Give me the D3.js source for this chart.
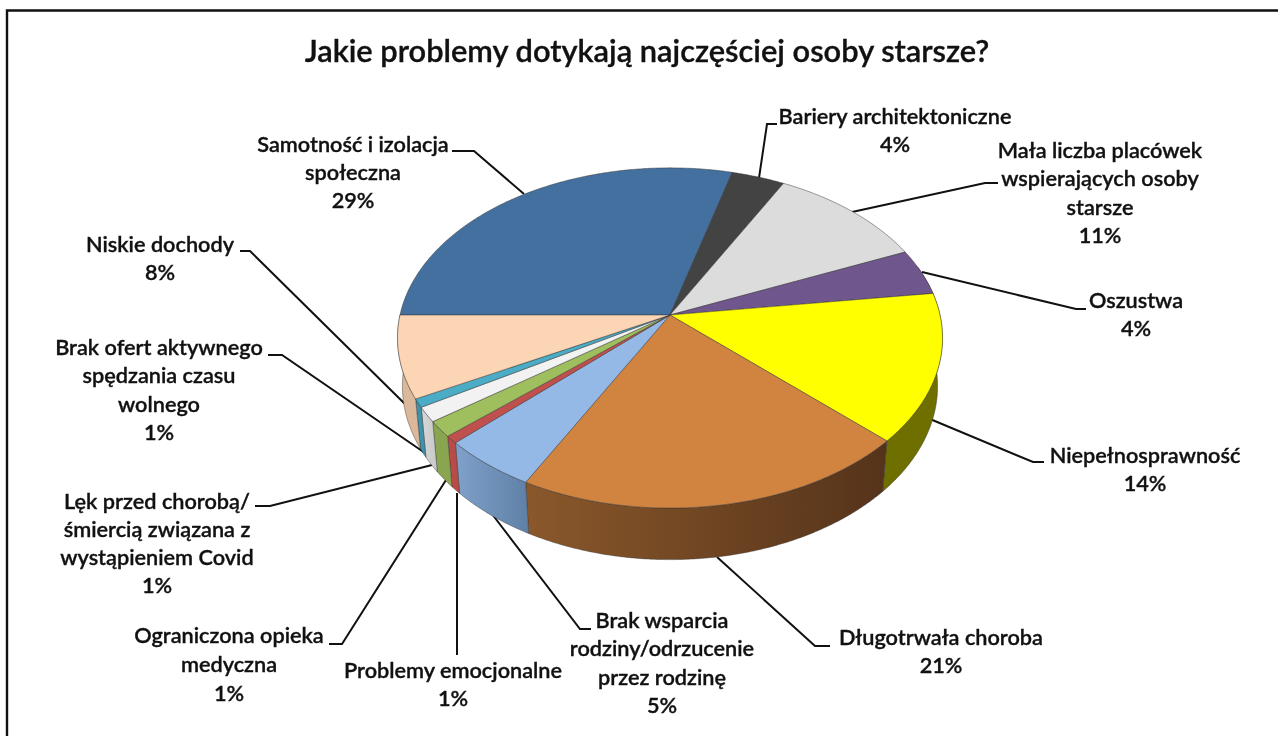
<!DOCTYPE html>
<html><head><meta charset="utf-8">
<script src="https://cdn.jsdelivr.net/npm/d3@7"></script>
<style>html,body{margin:0;padding:0;background:#fff;overflow:hidden}svg{display:block;filter:blur(0.45px)}</style>
</head><body><div id="chart"></div>
<script>
const title = "Jakie problemy dotykają najczęściej osoby starsze?";
const categories = [
  ["Samotność i izolacja","społeczna"],
  ["Bariery architektoniczne"],
  ["Mała liczba placówek","wspierających osoby","starsze"],
  ["Oszustwa"],
  ["Niepełnosprawność"],
  ["Długotrwała choroba"],
  ["Brak wsparcia","rodziny/odrzucenie","przez rodzinę"],
  ["Problemy emocjonalne"],
  ["Ograniczona opieka","medyczna"],
  ["Lęk przed chorobą/","śmiercią związana z","wystąpieniem Covid"],
  ["Brak ofert aktywnego","spędzania czasu","wolnego"],
  ["Niskie dochody"]
];
const values = [29.2,3.6,10.7,4.4,14.1,20.8,5.0,0.7,1.5,1.4,0.8,7.8];
const percentLabels = ["29%","4%","11%","4%","14%","21%","5%","1%","1%","1%","1%","8%"];
const topColors = ["#44709f","#434343","#dcdcdc","#6f568c","#ffff00","#d18340","#95b9e6","#c0504d","#9fbf5e","#f2f2f2","#4bacc6","#fcd5b5"];
const wallStart = ["#44709f","#434343","#dcdcdc","#6f568c","#6f6f00","#55331a","#5f80a6","#b84a47","#8aa550","#c9c9c9","#3c93ab","#dcb89a"];
const wallEnd   = ["#44709f","#434343","#dcdcdc","#6f568c","#6f6f00","#8a582b","#7fa1ca","#b84a47","#8aa550","#d6d6d6","#3c93ab","#dcb89a"];

// label layout: centre x, first baseline, line step, leader polyline
const labelLayout = [
  {x:353,y:152,dy:28,leader:[[452,151],[474,151],[524,194]]},
  {x:895,y:124,dy:28,leader:[[777,124],[767,124],[759,178]]},
  {x:1100,y:158,dy:28.3,leader:[[998,183],[985,183],[852,212]]},
  {x:1136,y:308,dy:28,leader:[[1086,309],[1076,309],[922,272]]},
  {x:1145,y:463,dy:27.7,leader:[[1044,462],[1033,462],[930,419]]},
  {x:941,y:645,dy:28,leader:[[830,646],[815,646],[717,557]]},
  {x:662,y:628,dy:28.4,leader:[[591,629],[580,629],[492,514]]},
  {x:453,y:678,dy:28,leader:[[457,655],[457,493]]},
  {x:229,y:643,dy:29,leader:[[329,644],[342,644],[446,480]]},
  {x:157,y:509,dy:28,leader:[[255,506],[270,506],[432,465]]},
  {x:159,y:355,dy:28.4,leader:[[268,355],[282,355],[425,453]]},
  {x:160,y:252,dy:27.5,leader:[[240,251],[250,251],[407,406]]}
];

const W = 1278, H = 736;
const svg = d3.select("#chart").append("svg").attr("width",W).attr("height",H);
const defs = svg.append("defs");

// projection of the tilted disc (perspective); h = 0 top plane, h = 1 bottom plane
const cx = 670, cy = 315, rx = 270, ry = 167, k = 0.135, m = 0.018, c = 49;
function project(theta, h){
  const u = Math.sin(theta), v = -Math.cos(theta);
  const w = 1 + m*h - k*v;
  return [cx + rx*u/w, cy + (ry*v + c*h)/w];
}
const pie = d3.pie().sort(null).startAngle(-Math.PI/2).endAngle(3*Math.PI/2);
const arcs = pie(values);
const samples = (a,b) => { const n = Math.max(2,Math.ceil((b-a)/0.01)); return d3.range(n+1).map(i=>a+(b-a)*i/n); };
const line = d3.line();

// frame: left and top edges only, the right and bottom fall outside the crop
svg.append("path").attr("d",line([[7,H],[7,10.5],[W,10.5]]))
  .attr("fill","none").attr("stroke","#111").attr("stroke-width",2.4);

// title
svg.append("text").attr("x",647).attr("y",62).attr("text-anchor","middle")
  .attr("font-family","Lato").attr("font-weight",600).attr("font-size",30.8)
  .attr("fill","#111").attr("stroke","#111").attr("stroke-width",0.35).text(title);

// leaders (behind the pie)
svg.append("g").selectAll("path").data(labelLayout).join("path")
  .attr("d",d=>line(d.leader)).attr("fill","none").attr("stroke","#111").attr("stroke-width",2);

// walls
const frontEdge = Math.PI/2 - 0.3, backEdge = 3*Math.PI/2;
const walls = svg.append("g");
arcs.forEach((d,i)=>{
  const a = Math.max(d.startAngle,frontEdge), b = Math.min(d.endAngle,backEdge);
  if (b <= a) return;
  const ts = samples(a,b);
  const pts = ts.map(t=>project(t,0)).concat(ts.slice().reverse().map(t=>project(t,1)));
  const ext = d3.extent(pts,p=>p[0]);
  const id = "wall"+i;
  const g = defs.append("linearGradient").attr("id",id).attr("gradientUnits","userSpaceOnUse")
    .attr("x1",ext[1]).attr("x2",ext[0]).attr("y1",0).attr("y2",0);
  g.append("stop").attr("offset",0).attr("stop-color",wallStart[i]);
  g.append("stop").attr("offset",1).attr("stop-color",wallEnd[i]);
  walls.append("path").attr("d",line(pts)+"Z").attr("fill",`url(#${id})`)
    .attr("stroke","#333").attr("stroke-opacity",0.55).attr("stroke-width",0.8);
});

// top faces
svg.append("g").selectAll("path").data(arcs).join("path")
  .attr("d",d=>line([[cx,cy]].concat(samples(d.startAngle,d.endAngle).map(t=>project(t,0))))+"Z")
  .attr("fill",(d,i)=>topColors[i])
  .attr("stroke","#333").attr("stroke-opacity",0.6).attr("stroke-width",0.8).attr("stroke-linejoin","round");

// labels
const labels = svg.append("g").attr("font-family","Lato").attr("font-weight",600).attr("font-size",21.7)
  .attr("fill","#111").attr("stroke","#111").attr("stroke-width",0.35).attr("text-anchor","middle");
categories.forEach((lines,i)=>{
  const L = labelLayout[i];
  lines.concat([percentLabels[i]]).forEach((s,j)=>{
    labels.append("text").attr("x",L.x).attr("y",L.y+j*L.dy).text(s);
  });
});
</script></body></html>
